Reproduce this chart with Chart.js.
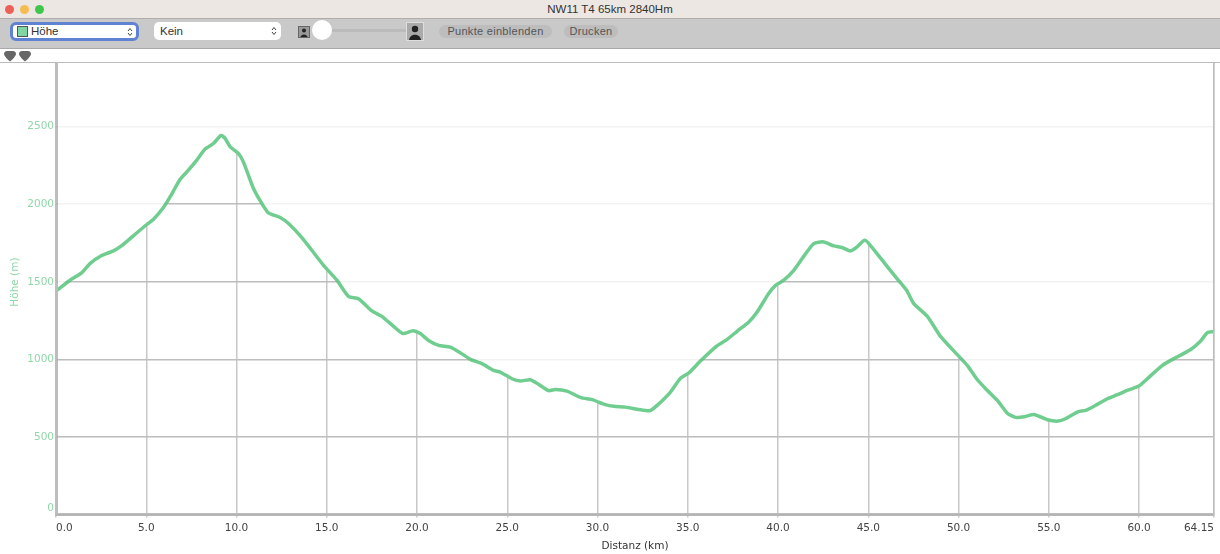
<!DOCTYPE html>
<html>
<head>
<meta charset="utf-8">
<title>NW11 T4 65km 2840Hm</title>
<script src="https://cdn.jsdelivr.net/npm/chart.js@4"></script>
<style>
    html, body { margin: 0; padding: 0; background: #fff; }
    body { width: 1220px; height: 554px; overflow: hidden; position: relative; font-family: "Liberation Sans", sans-serif; }
    .abs { position: absolute; box-sizing: border-box; }
    #titlebar { left: 0; top: 0; width: 1220px; height: 19px; background: #ece7e2; border-bottom: 1px solid #b0aeac; text-align: center; font-size: 11.5px; line-height: 18px; color: #333; }
    #toolbar { left: 0; top: 19px; width: 1220px; height: 30px; background: #c9c9c9; border-bottom: 1px solid #a8a8a8; }
    .dot { width: 9px; height: 9px; border-radius: 50%; top: 5px; }
    .select { background: #fff; border-radius: 5px; font-size: 11.5px; color: #333; line-height: 18px; }
    .pill { background: #bdbdbd; color: #555; font-size: 11px; line-height: 13px; border-radius: 7px; text-align: center; letter-spacing: .3px; }
    #chart { position: absolute; left: 0; top: 49px; }
</style>
</head>
<body>
<div class="abs" id="titlebar">NW11 T4 65km 2840Hm</div>
<div class="abs dot" style="left:5px;background:#ee5f58"></div>
<div class="abs dot" style="left:20px;background:#f5bd4f"></div>
<div class="abs dot" style="left:35px;background:#3ec74a"></div>
<div class="abs" id="toolbar"></div>

<div class="abs select" style="left:10px;top:22px;width:129px;height:19px;border:3px solid #5f82d2;border-radius:6px;line-height:13px;padding-left:18px">Höhe
    <div class="abs" style="left:4px;top:1px;width:11px;height:11px;background:#7fd6a0;border:1px solid #555"></div>
    <svg class="abs" style="right:3px;top:2px" width="6" height="10"><path d="M1 4L3 1.5L5 4M1 6L3 8.5L5 6" fill="none" stroke="#444" stroke-width="1"/></svg>
</div>
<div class="abs select" style="left:154px;top:22px;width:127px;height:18px;padding-left:6px">Kein
    <svg class="abs" style="right:4px;top:4px" width="6" height="10"><path d="M1 4L3 1.5L5 4M1 6L3 8.5L5 6" fill="none" stroke="#444" stroke-width="1"/></svg>
</div>

<svg class="abs" style="left:298px;top:26px" width="12" height="12"><rect x=".5" y=".5" width="11" height="11" fill="#999" stroke="#666"/><circle cx="6" cy="4.5" r="2" fill="#222"/><path d="M2.5 11C3 7.5 9 7.5 9.5 11Z" fill="#222"/></svg>
<div class="abs" style="left:325px;top:29px;width:82px;height:3px;background:#bbb"></div>
<div class="abs" style="left:312px;top:20px;width:20px;height:20px;border-radius:50%;background:#fff"></div>
<svg class="abs" style="left:406px;top:22px" width="18" height="19"><rect x=".5" y=".5" width="17" height="18" fill="#aaa" stroke="#ddd"/><circle cx="9" cy="7" r="3.2" fill="#222"/><path d="M3 18C4 11 14 11 15 18Z" fill="#222"/></svg>
<div class="abs pill" style="left:439px;top:25px;width:113px;height:13px">Punkte einblenden</div>
<div class="abs pill" style="left:564px;top:25px;width:54px;height:13px">Drucken</div>

<svg class="abs" style="left:4px;top:51px" width="28" height="11"><path d="M0 3C0 1 1.5 0 3 0H9C10.5 0 12 1 12 3C12 5 8 9 6 10.5C4 9 0 5 0 3Z" fill="#666"/><path d="M15 3C15 1 16.5 0 18 0H24C25.5 0 27 1 27 3C27 5 23 9 21 10.5C19 9 15 5 15 3Z" fill="#666"/></svg>
<div class="abs" style="left:0;top:62px;width:1220px;height:1px;background:#bcbcbc"></div>

<canvas id="chart" width="1220" height="505"></canvas>

<script>
const distanceKm = [0, 0.78, 1.42, 1.88, 2.53, 3.18, 3.64, 4.28, 5.03, 5.39, 5.95, 6.32, 6.87, 7.25, 7.8, 8.26, 8.72, 9.15, 9.37, 9.65, 10.1,
    10.38, 10.94, 11.4, 11.77, 12.42, 12.88, 13.62, 14.17, 14.82, 15.56, 16.2, 16.76, 17.5, 18.05, 18.7, 19.22, 19.77, 20.18, 20.64,
    21.2, 21.84, 22.39, 22.95, 23.6, 24.24, 24.61, 25.26, 25.72, 26.27, 26.73, 27.29, 27.66, 28.31, 29.08, 29.7, 30.43, 30.9, 31.54, 32.28, 32.89,
    33.3, 34.04, 34.6, 35.05, 35.7, 36.53, 37.18, 37.73, 38.38, 38.84, 39.48, 39.86, 40.32, 40.87, 41.43, 41.98, 42.53, 43.09, 43.55, 44.01, 44.38, 44.79,
    45.03, 45.77, 46.51, 47.12, 47.52, 48.27, 49, 50.02, 50.48, 51, 51.5, 52.15, 52.7, 53.16, 53.71, 54.17, 54.92, 55.5, 55.93,
    56.6, 57.04, 57.69, 58.24, 58.8, 59.35, 59.99, 60.46, 61.29, 62.03, 62.86, 63.41, 63.78, 64.15];
const elevationM = [1440, 1510, 1557, 1617, 1669, 1699, 1733, 1796, 1869, 1901, 1979, 2047, 2159, 2208, 2284, 2355, 2391, 2443, 2424, 2370, 2327,
    2273, 2101, 2005, 1944, 1914, 1875, 1785, 1703, 1606, 1510, 1406, 1391, 1312, 1277, 1213, 1166, 1185, 1166, 1122,
    1090, 1079, 1043, 1000, 972, 929, 918, 875, 860, 869, 839, 798, 806, 795, 753, 740, 708, 697, 692, 677, 669,
    703, 789, 879, 912, 989, 1079, 1129, 1181, 1241, 1305, 1424, 1477, 1510, 1574, 1665, 1746, 1757, 1731, 1721, 1699, 1725, 1768,
    1746, 1639, 1531, 1445, 1359, 1277, 1148, 1019, 961, 875, 811, 735, 653, 626, 632, 645, 611, 602, 617,
    662, 671, 710, 746, 772, 800, 828, 875, 961, 1011, 1063, 1118, 1172, 1179];
const xTicks = [0, 5, 10, 15, 20, 25, 30, 35, 40, 45, 50, 55, 60, 64.15];
const yTicks = [0, 500, 1000, 1500, 2000, 2500];

const lineColor = "#6fce8f";
const labelGreen = "#8fd8a8";
const gridGrey = "#c8c8c8";
const axisGrey = "#bdbdbd";
const fontFamily = "'DejaVu Sans', sans-serif";

new Chart(document.getElementById("chart"), {
    type: "line",
    data: {
        datasets: [
            {
                label: "Höhe",
                data: distanceKm.map((km, i) => ({ x: km, y: elevationM[i] })),
                borderColor: lineColor,
                borderWidth: 3.5,
                tension: 0.2,
                pointRadius: 0,
                // white above the curve hides the grid there
                fill: "end",
                backgroundColor: "#ffffff",
                yAxisID: "y",
            },
        ],
    },
    options: {
        responsive: false,
        animation: false,
        layout: { padding: { top: 14 } },
        plugins: { legend: { display: false }, tooltip: { enabled: false } },
        scales: {
            x: {
                type: "linear",
                min: 0,
                max: 64.15,
                afterBuildTicks: (s) => { s.ticks = xTicks.map((v) => ({ value: v })); },
                afterFit: (s) => { s.height = 39.5; },
                ticks: {
                    autoSkip: false,
                    maxRotation: 0,
                    align: "inner",
                    padding: 4,
                    color: "#444",
                    font: { family: fontFamily, size: 10.5 },
                    callback: (v) => (v === 64.15 ? "64.15" : v.toFixed(1)),
                },
                grid: { color: gridGrey, lineWidth: 1.5, tickLength: 3 },
                border: { color: axisGrey, width: 3, z: 1 },
                title: {
                    display: true,
                    text: "Distanz (km)",
                    color: "#333",
                    padding: { top: 3, bottom: 1 },
                    font: { family: fontFamily, size: 10.5 },
                },
            },
            y: {
                min: 0,
                max: 2910,
                afterBuildTicks: (s) => { s.ticks = yTicks.map((v) => ({ value: v })); },
                afterFit: (s) => { s.width = 56; },
                ticks: {
                    padding: 2,
                    color: labelGreen,
                    font: { family: fontFamily, size: 10.5 },
                    callback: (v) => (v === 0 ? ["0", ""] : String(v)),
                },
                grid: { color: gridGrey, lineWidth: 1.5, drawTicks: false },
                border: { color: axisGrey, width: 3, z: 1 },
                title: {
                    display: true,
                    // leading spaces nudge it up a little off the axis centre
                    text: "    Höhe (m)",
                    color: labelGreen,
                    padding: { top: 9, bottom: 0 },
                    font: { family: fontFamily, size: 10.5 },
                },
            },
            // faint lines over the white part, plus the right edge
            y2: {
                position: "right",
                min: 0,
                max: 2910,
                afterBuildTicks: (s) => { s.ticks = yTicks.map((v) => ({ value: v })); },
                afterFit: (s) => { s.width = 6; },
                ticks: { display: false },
                grid: { color: "rgba(0,0,0,0.05)", lineWidth: 1.5, drawTicks: false, z: 1 },
                border: { color: axisGrey, width: 1.5, z: 1 },
            },
        },
    },
});
</script>
</body>
</html>
